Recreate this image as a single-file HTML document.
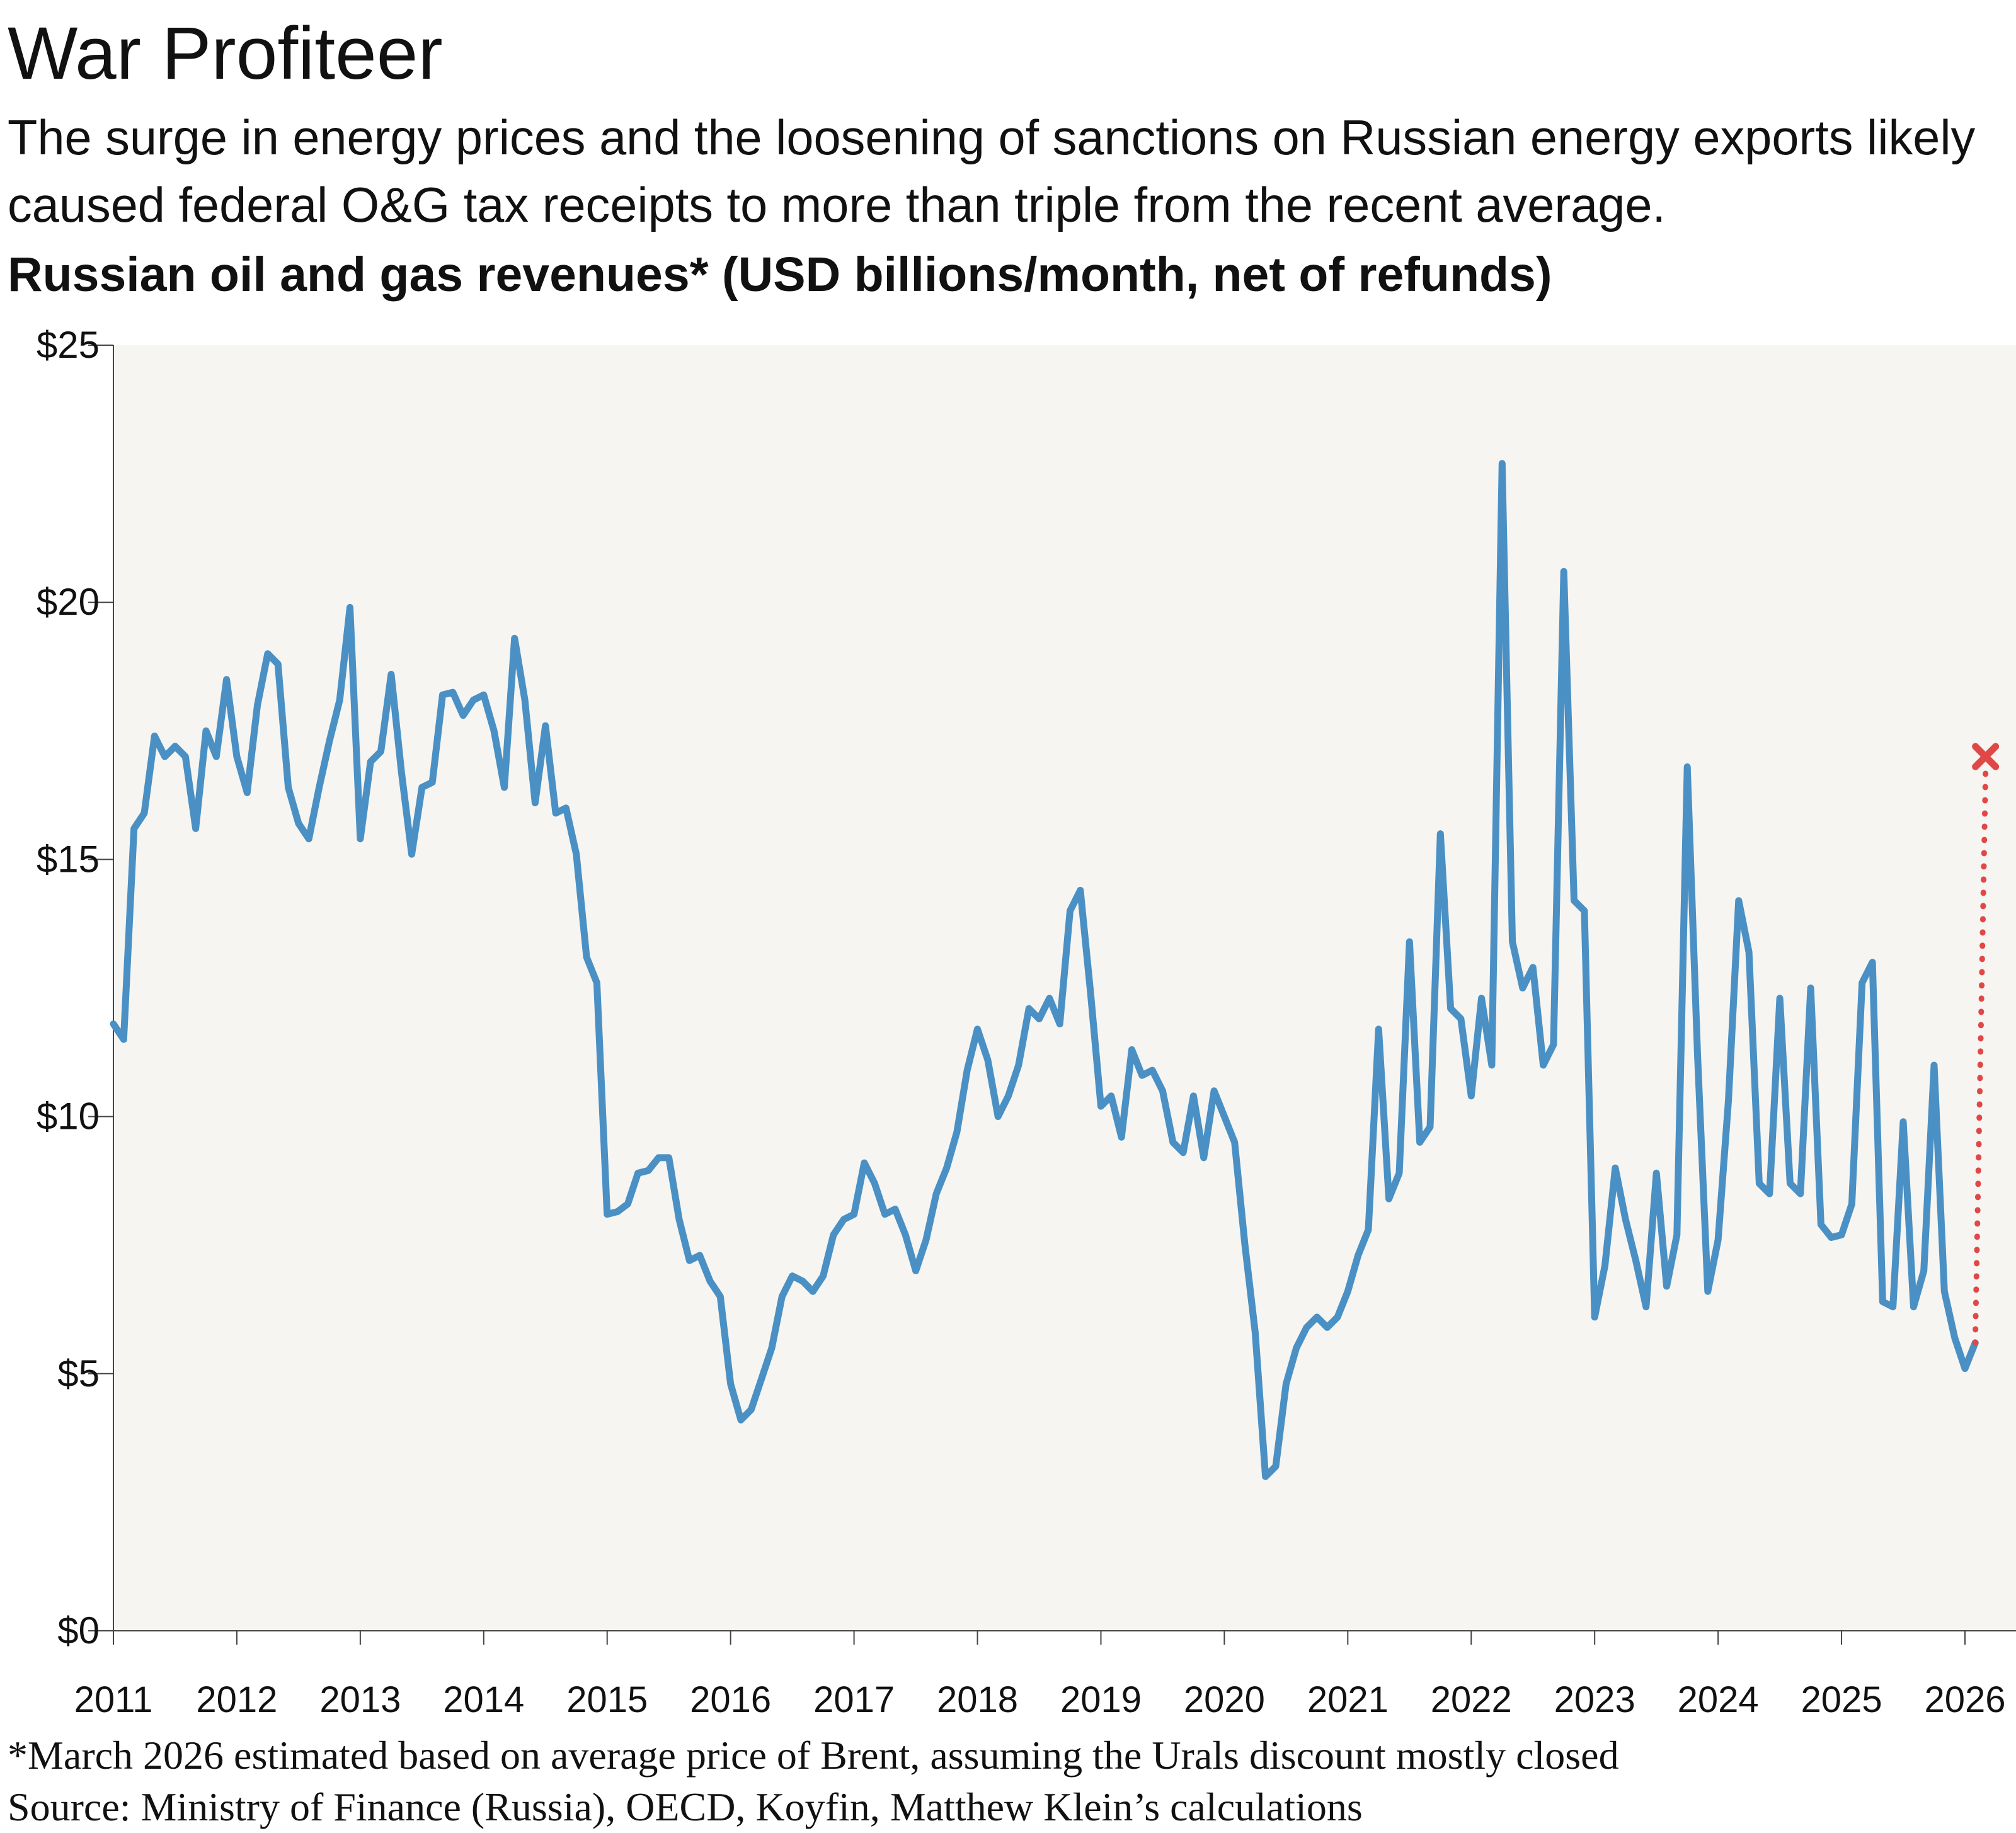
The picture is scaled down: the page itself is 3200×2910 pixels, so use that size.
<!DOCTYPE html>
<html><head><meta charset="utf-8">
<style>
html,body{margin:0;padding:0;background:#fff;}
svg{display:block;}
</style></head>
<body>
<svg id="chart" width="3200" height="2910" viewBox="0 0 3200 2910" xmlns="http://www.w3.org/2000/svg">
  <text x="12" y="125" font-family="Liberation Sans, sans-serif" font-size="118" fill="#111">War Profiteer</text>
  <text x="12" y="245" font-family="Liberation Sans, sans-serif" font-size="77.5" fill="#111">The surge in energy prices and the loosening of sanctions on Russian energy exports likely</text>
  <text x="12" y="352" font-family="Liberation Sans, sans-serif" font-size="77.5" fill="#111">caused federal O&amp;G tax receipts to more than triple from the recent average.</text>
  <text x="12" y="462" font-family="Liberation Sans, sans-serif" font-size="77" font-weight="bold" fill="#111">Russian oil and gas revenues* (USD billions/month, net of refunds)</text>
  <rect x="180" y="548" width="3020" height="2041" fill="#f6f5f1"/>
  <g id="axes"></g>
  <g id="marks"></g>
  <text x="12" y="2808" font-family="Liberation Serif, serif" font-size="64" fill="#111">*March 2026 estimated based on average price of Brent, assuming the Urals discount mostly closed</text>
  <text x="12" y="2890" font-family="Liberation Serif, serif" font-size="64" fill="#111">Source: Ministry of Finance (Russia), OECD, Koyfin, Matthew Klein’s calculations</text>
</svg>
<script>
const startYear = 2011;
const revenues = [
11.8,11.5,15.6,15.9,17.4,17.0,17.2,17.0,15.6,17.5,17.0,18.5,
17.0,16.3,18.0,19.0,18.8,16.4,15.7,15.4,16.4,17.3,18.1,19.9,
15.4,16.9,17.1,18.6,16.7,15.1,16.4,16.5,18.2,18.25,17.8,18.1,
18.2,17.5,16.4,19.3,18.1,16.1,17.6,15.9,16.0,15.1,13.1,12.6,
8.1,8.15,8.3,8.9,8.95,9.2,9.2,8.0,7.2,7.3,6.8,6.5,
4.8,4.1,4.3,4.9,5.5,6.5,6.9,6.8,6.6,6.9,7.7,8.0,
8.1,9.1,8.7,8.1,8.2,7.7,7.0,7.6,8.5,9.0,9.7,10.9,
11.7,11.1,10.0,10.4,11.0,12.1,11.9,12.3,11.8,14.0,14.4,12.4,
10.2,10.4,9.6,11.3,10.8,10.9,10.5,9.5,9.3,10.4,9.2,10.5,
10.0,9.5,7.5,5.8,3.0,3.2,4.8,5.5,5.9,6.1,5.9,6.1,
6.6,7.3,7.8,11.7,8.4,8.9,13.4,9.5,9.8,15.5,12.1,11.9,
10.4,12.3,11.0,22.7,13.4,12.5,12.9,11.0,11.4,20.6,14.2,14.0,
6.1,7.1,9.0,8.0,7.2,6.3,8.9,6.7,7.7,16.8,11.2,6.6,
7.6,10.3,14.2,13.2,8.7,8.5,12.3,8.7,8.5,12.5,7.9,7.65,
7.7,8.3,12.6,13.0,6.4,6.3,9.9,6.3,7.0,11.0,6.6,5.7,
5.1,5.6
];
const estimateValue = 17.0;
const estimateIndex = 182;
const yTicks = [0,5,10,15,20,25];
const yTickLabels = ["$0","$5","$10","$15","$20","$25"];
const xYears = [2011,2012,2013,2014,2015,2016,2017,2018,2019,2020,2021,2022,2023,2024,2025,2026];

const NS = "http://www.w3.org/2000/svg";
const X0 = 180, XMONTH = (3119-180)/180;
const Y0 = 2589, YTOP = 548, YMAX = 25;
function xScale(i){ return X0 + i*XMONTH; }
function yScale(v){ return Y0 - (v/YMAX)*(Y0-YTOP); }
function mk(tag, attrs, parent){ const e=document.createElementNS(NS,tag); for(const k in attrs) e.setAttribute(k,attrs[k]); parent.appendChild(e); return e; }

const axes = document.getElementById('axes');
const marks = document.getElementById('marks');

const yAxis = mk('line',{x1:X0,y1:YTOP,x2:X0,y2:Y0,stroke:'#444','stroke-width':2},axes);


const xAxis = mk('line',{x1:X0,y1:Y0,x2:3200,y2:Y0,stroke:'#444','stroke-width':2},axes);



yTicks.forEach((v,i)=>{
  const y=yScale(v);
  const t=mk('line',{x1:X0-40,y1:y,x2:X0,y2:y,stroke:'#444','stroke-width':2},axes);
  
  
  const lb=mk('text',{x:X0-22,y:y+20,'text-anchor':'end','font-family':'Liberation Sans, sans-serif','font-size':60,fill:'#111'},axes);
  lb.textContent=yTickLabels[i];
  
  
});
xYears.forEach(yr=>{
  const x=xScale((yr-startYear)*12);
  const t=mk('line',{x1:x,y1:Y0,x2:x,y2:Y0+22,stroke:'#444','stroke-width':2},axes);
  
  
  const lb=mk('text',{x:x,y:2718,'text-anchor':'middle','font-family':'Liberation Sans, sans-serif','font-size':58,fill:'#111'},axes);
  lb.textContent=String(yr);
  
  
});

const pts = revenues.map((v,i)=>xScale(i).toFixed(1)+','+yScale(v).toFixed(1)).join(' ');
const line = mk('polyline',{points:pts,fill:'none',stroke:'#4a90c4','stroke-width':11,'stroke-linejoin':'round','stroke-linecap':'round'},marks);



const lastI = revenues.length-1;
const ex = xScale(estimateIndex), ey = yScale(estimateValue);
const dots = mk('line',{x1:xScale(lastI),y1:yScale(revenues[lastI]),x2:ex,y2:ey+25,stroke:'#e04848','stroke-width':9,'stroke-dasharray':'1 20','stroke-linecap':'round'},marks);


const s=16;
const cross = mk('path',{d:`M${ex-s},${ey-s}L${ex+s},${ey+s}M${ex-s},${ey+s}L${ex+s},${ey-s}`,stroke:'#e04848','stroke-width':11,'stroke-linecap':'round',fill:'none'},marks);


</script>
</body></html>
